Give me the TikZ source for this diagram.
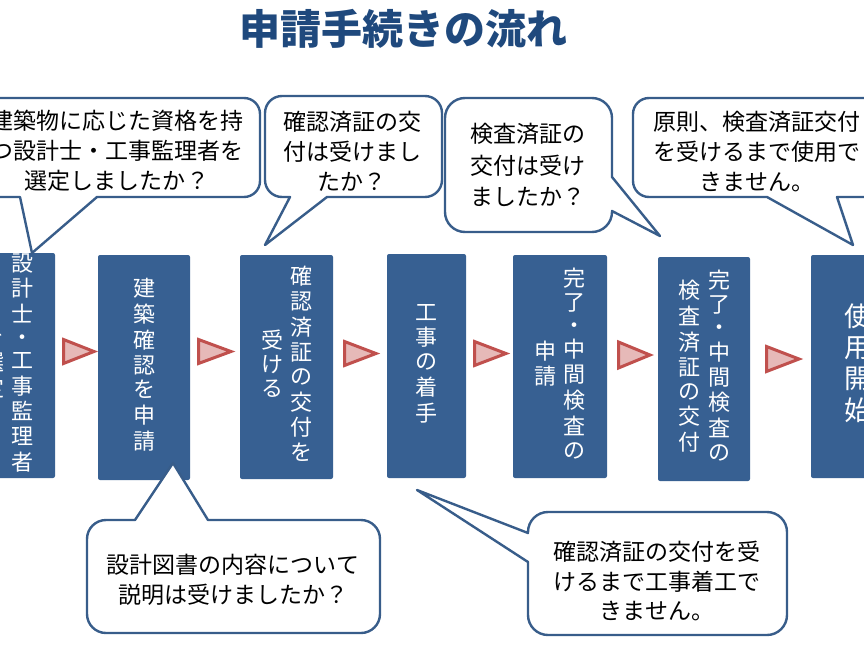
\documentclass[tikz,border=0pt]{standalone}
\usepackage{fontspec}
\setmainfont{Noto Sans CJK JP}
\definecolor{boxblue}{RGB}{55,96,146}
\definecolor{cline}{RGB}{56,93,138}
\definecolor{tred}{RGB}{192,80,77}
\definecolor{tpink}{RGB}{230,185,184}
\definecolor{titleblue}{RGB}{31,73,125}
\newcommand\vcol[1]{\begin{tabular}[c]{@{}c@{}}#1\end{tabular}}
% callout with tail on bottom: x1 y1 x2 y2 r bx1 bx2 tx ty
\newcommand\callB[9]{\draw[cout] ({#1+#5},#2) -- ({#3-#5},#2) arc[start angle=-90,end angle=0,radius=#5] -- (#3,{#4-#5}) arc[start angle=0,end angle=90,radius=#5] -- (#7,#4) -- (#8,#9) -- (#6,#4) -- ({#1+#5},#4) arc[start angle=90,end angle=180,radius=#5] -- (#1,{#2+#5}) arc[start angle=180,end angle=270,radius=#5] -- cycle;}
% tail on right: x1 y1 x2 y2 r by1 by2 tx ty
\newcommand\callR[9]{\draw[cout] ({#1+#5},#2) -- ({#3-#5},#2) arc[start angle=-90,end angle=0,radius=#5] -- (#3,#6) -- (#8,#9) -- (#3,#7) -- (#3,{#4-#5}) arc[start angle=0,end angle=90,radius=#5] -- ({#1+#5},#4) arc[start angle=90,end angle=180,radius=#5] -- (#1,{#2+#5}) arc[start angle=180,end angle=270,radius=#5] -- cycle;}
% tail on top: x1 y1 x2 y2 r bx1 bx2 tx ty
\newcommand\callT[9]{\draw[cout] ({#1+#5},#2) -- (#6,#2) -- (#8,#9) -- (#7,#2) -- ({#3-#5},#2) arc[start angle=-90,end angle=0,radius=#5] -- (#3,{#4-#5}) arc[start angle=0,end angle=90,radius=#5] -- ({#1+#5},#4) arc[start angle=90,end angle=180,radius=#5] -- (#1,{#2+#5}) arc[start angle=180,end angle=270,radius=#5] -- cycle;}
% tail on left: x1 y1 x2 y2 r by1 by2 tx ty
\newcommand\callL[9]{\draw[cout] ({#1+#5},#2) -- ({#3-#5},#2) arc[start angle=-90,end angle=0,radius=#5] -- (#3,{#4-#5}) arc[start angle=0,end angle=90,radius=#5] -- ({#1+#5},#4) arc[start angle=90,end angle=180,radius=#5] -- (#1,#7) -- (#8,#9) -- (#1,#6) -- (#1,{#2+#5}) arc[start angle=180,end angle=270,radius=#5] -- cycle;}
% flow triangle: x0 x1 yc h
\newcommand\ftri[4]{\draw[flowtri] (#1,{#3-#4}) -- (#2,#3) -- (#1,{#3+#4}) -- cycle;}
\begin{document}
\begin{tikzpicture}[x=1pt,y=-1pt,
  stepbox/.style={rectangle, rounded corners=2pt, fill=boxblue, text=white, inner sep=0pt, font=\fontsize{22}{24}\selectfont},
  cout/.style={draw=cline, line width=2.4pt, fill=white, line join=round},
  ctext/.style={inner sep=0pt, align=center, font=\fontsize{23}{30}\selectfont},
  flowtri/.style={draw=tred, fill=tpink, line width=3pt, line join=miter}]
\path[use as bounding box] (0,0) rectangle (864,648);
\clip (0,0) rectangle (864,648);

% title
\node[inner sep=0pt, text=titleblue, font=\fontsize{41}{41}\selectfont\bfseries] (title) at (403,29) {申請手続きの流れ};

% step boxes
\node[stepbox, minimum width=93pt, minimum height=225pt] (b1) at (8.5,365.5)
  {\vcol{を\\選\\定}\hspace{7pt}\vcol{設\\計\\士\\[-1pt]・\\[-1pt]工\\事\\監\\理\\者}};
\node[stepbox, minimum width=92pt, minimum height=225pt] (b2) at (144,367.5)
  {\vcol{建\\築\\確\\認\\を\\申\\請}};
\node[stepbox, minimum width=93pt, minimum height=224pt] (b3) at (286.5,367)
  {\vcol{受\\け\\る}\hspace{7pt}\vcol{確\\認\\済\\証\\の\\交\\付\\を}};
\node[stepbox, minimum width=79pt, minimum height=224pt] (b4) at (426.5,366)
  {\vcol{工\\事\\の\\着\\手}};
\node[stepbox, minimum width=94pt, minimum height=223pt] (b5) at (560,366.5)
  {\vcol{申\\請}\hspace{7pt}\vcol{完\\了\\[-1pt]・\\[-1pt]中\\間\\検\\査\\の}};
\node[stepbox, minimum width=92pt, minimum height=224pt] (b6) at (704,369)
  {\vcol{検\\査\\済\\証\\の\\交\\付}\hspace{8pt}\vcol{完\\了\\[-1pt]・\\[-1pt]中\\間\\検\\査\\の}};
\node[stepbox, minimum width=94pt, minimum height=223pt, font=\fontsize{27}{31}\selectfont] (b7) at (858,366.5)
  {\vcol{使\\用\\開\\始}};

% flow triangles
\ftri{63.5}{94}{351.5}{12}
\ftri{198.5}{231}{351.5}{12}
\ftri{344.5}{376}{353.5}{12}
\ftri{474.5}{506}{353.5}{12}
\ftri{618.5}{650}{355}{13}
\ftri{766.5}{799}{359}{12.5}

% callouts
\callB{-28}{98}{260}{197}{16}{20}{97}{32}{253}
\callB{265}{96}{442}{197}{17}{290}{327}{265}{245}
\callR{445}{98}{612}{232}{20}{177}{211}{660}{236}
\callB{633}{98}{881}{197}{16}{767}{837}{853}{245}
\callT{87}{520}{380}{633}{19}{135}{208}{173}{463}
\callL{528}{512}{787}{635}{20}{533}{562}{417}{490}

\node[ctext] (c1) at (117,151) {建築物に応じた資格を持\\つ設計士・工事監理者を\\選定しましたか？};
\node[ctext] (c2) at (352,151.5) {確認済証の交\\付は受けまし\\たか？};
\node[ctext, font=\fontsize{23}{31.5}\selectfont] (c3) at (528,165) {検査済証の\\交付は受け\\ましたか？};
\node[ctext] (c4) at (757,152) {原則、検査済証交付\\を受けるまで使用で\\きません。};
\node[ctext] (c5) at (233,580) {設計図書の内容について\\説明は受けましたか？};
\node[ctext, font=\fontsize{23}{29.5}\selectfont] (c6) at (657,581) {確認済証の交付を受\\けるまで工事着工で\\きません。};
\end{tikzpicture}
\end{document}
